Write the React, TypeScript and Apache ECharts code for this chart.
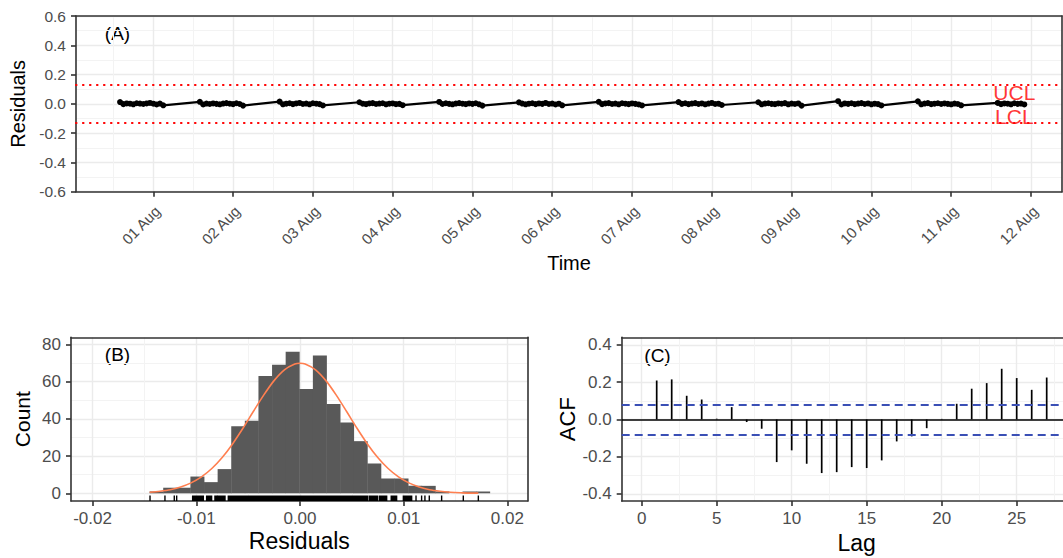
import { useEffect, useRef } from "react";
import * as echarts from "echarts";

const FONT = "'Liberation Sans', Arial, Helvetica, sans-serif";
const TICK_GREY = "#4D4D4D";
const BORDER = "#333333";
const GRID_MAJOR = "#EBEBEB";
const GRID_MINOR = "#F3F3F3";

// ---------- (A) residuals over time, one run of hourly readings per night ----------
const nightStarts = [
  "2021-07-31T14:00:00Z",
  "2021-08-01T14:00:00Z",
  "2021-08-02T14:00:00Z",
  "2021-08-03T14:00:00Z",
  "2021-08-04T14:00:00Z",
  "2021-08-05T14:00:00Z",
  "2021-08-06T14:00:00Z",
  "2021-08-07T14:00:00Z",
  "2021-08-08T14:00:00Z",
  "2021-08-09T14:00:00Z",
  "2021-08-10T14:00:00Z",
  "2021-08-11T14:00:00Z",
];
const SAMPLE_STEP_HOURS = 1;
const nightResiduals: number[][] = [
  [0.012, -0.002, 0.003, 0.001, -0.003, 0.004, 0.002, -0.001, 0.003, 0.006, 0.001, -0.004, 0.002, -0.01],
  [0.014, -0.004, 0.002, -0.001, 0.003, 0.0, -0.003, 0.002, 0.005, 0.001, -0.002, 0.004, -0.001, -0.012],
  [0.015, -0.003, 0.001, 0.004, -0.002, 0.003, 0.006, -0.001, 0.002, -0.003, 0.004, 0.001, -0.002, -0.011],
  [0.011, 0.001, -0.002, 0.003, 0.005, -0.001, 0.002, 0.004, -0.003, 0.001, 0.003, -0.002, 0.0, -0.009],
  [0.013, -0.001, 0.004, 0.0, -0.003, 0.002, 0.005, 0.001, -0.002, 0.003, 0.0, 0.004, -0.003, -0.012],
  [0.01, 0.002, -0.003, 0.001, 0.004, -0.002, 0.003, 0.0, 0.006, -0.001, 0.002, -0.004, 0.001, -0.01],
  [0.014, -0.002, 0.003, 0.005, -0.001, 0.002, -0.003, 0.004, 0.001, -0.002, 0.003, 0.0, -0.004, -0.011],
  [0.012, 0.0, 0.004, -0.002, 0.002, 0.005, -0.001, 0.003, -0.003, 0.002, 0.006, -0.001, 0.001, -0.008],
  [0.011, -0.003, 0.002, 0.004, 0.0, -0.002, 0.003, 0.001, 0.005, -0.003, 0.002, -0.001, 0.003, -0.012],
  [0.018, -0.004, 0.003, 0.0, 0.004, -0.002, 0.002, 0.005, -0.001, 0.003, -0.003, 0.001, -0.002, -0.011],
  [0.017, -0.003, 0.002, 0.005, -0.002, 0.001, 0.004, -0.001, 0.003, 0.0, -0.003, 0.002, -0.001, -0.01],
  [0.006, -0.002, 0.003, 0.001, -0.003, 0.004, 0.0, 0.002, -0.004],
];
const UCL = 0.13;
const LCL = -0.13;
const limitLabelTime = "2021-08-11T19:00:00Z";
const timeRange = ["2021-07-31T00:45:00Z", "2021-08-12T09:20:00Z"];
const dayTickDates = [
  "2021-08-01", "2021-08-02", "2021-08-03", "2021-08-04", "2021-08-05", "2021-08-06",
  "2021-08-07", "2021-08-08", "2021-08-09", "2021-08-10", "2021-08-11", "2021-08-12",
];
const dayTickLabels = [
  "01 Aug", "02 Aug", "03 Aug", "04 Aug", "05 Aug", "06 Aug",
  "07 Aug", "08 Aug", "09 Aug", "10 Aug", "11 Aug", "12 Aug",
];
const halfDayDates = [
  "2021-07-31T12:00:00Z", "2021-08-01T12:00:00Z", "2021-08-02T12:00:00Z", "2021-08-03T12:00:00Z",
  "2021-08-04T12:00:00Z", "2021-08-05T12:00:00Z", "2021-08-06T12:00:00Z", "2021-08-07T12:00:00Z",
  "2021-08-08T12:00:00Z", "2021-08-09T12:00:00Z", "2021-08-10T12:00:00Z", "2021-08-11T12:00:00Z",
];
const residualTicks = [-0.6, -0.4, -0.2, 0, 0.2, 0.4, 0.6];
const residualMinorTicks = [-0.5, -0.3, -0.1, 0.1, 0.3, 0.5];

// ---------- (B) histogram of residuals with fitted normal curve and rug ----------
const HIST_START = -0.0145;
const BIN_WIDTH = 0.001312;
const binCounts = [1, 3, 3, 9, 6, 13, 36, 39, 63, 69, 76, 56, 74, 48, 38, 28, 16, 8, 8, 4, 4, 1, 0, 1, 1];
const normalX = [
  -0.0145, -0.0135, -0.0125, -0.0115, -0.0105, -0.0095, -0.0085, -0.0075, -0.0065, -0.0055,
  -0.0045, -0.0035, -0.0025, -0.0015, -0.0005, 0.0, 0.0005, 0.0015, 0.0025, 0.0035, 0.0045,
  0.0055, 0.0065, 0.0075, 0.0085, 0.0095, 0.0105, 0.0115, 0.0125, 0.0135, 0.0145, 0.0155,
  0.0165, 0.0172,
];
const normalY = [
  0.6, 1.1, 1.9, 3.4, 5.6, 8.8, 13.3, 19.2, 26.5, 34.9, 43.9, 52.7, 60.5, 66.3, 69.4, 69.8,
  69.4, 66.3, 60.5, 52.7, 43.9, 34.9, 26.5, 19.2, 13.3, 8.8, 5.6, 3.4, 1.9, 1.1, 0.6, 0.3,
  0.1, 0.1,
];
// rug marks: [from, to]; single marks have from === to
const rugSpans: [number, number][] = [
  [-0.01446, -0.01446], [-0.01302, -0.01302], [-0.01212, -0.01212], [-0.01189, -0.01189],
  [-0.01035, -0.00932], [-0.009, -0.00852], [-0.0082, -0.00803], [-0.00794, -0.00723],
  [-0.00691, 0.00653], [0.0067, 0.00746], [0.00765, 0.00836], [0.0088, 0.00932],
  [0.00997, 0.01077], [0.01119, 0.01119], [0.01173, 0.01173], [0.01205, 0.01205],
  [0.01247, 0.01247], [0.01366, 0.01366], [0.01575, 0.01575], [0.0172, 0.0172],
];
const histXRange = [-0.02208, 0.02196];
const histXTicks = [-0.02, -0.01, 0, 0.01, 0.02];
const histXMinor = [-0.015, -0.005, 0.005, 0.015];
const countRange = [-4.13, 83.76];
const countTicks = [0, 20, 40, 60, 80];
const countMinor = [10, 30, 50, 70];

// ---------- (C) autocorrelation of residuals ----------
const acfLags = [1, 2, 3, 4, 5, 6, 7, 8, 9, 10, 11, 12, 13, 14, 15, 16, 17, 18, 19, 20, 21, 22, 23, 24, 25, 26, 27];
const acfValues = [
  0.209, 0.215, 0.127, 0.107, 0.004, 0.066, -0.014, -0.05, -0.229, -0.166, -0.238, -0.288, -0.283,
  -0.256, -0.261, -0.22, -0.118, -0.091, -0.047, 0.003, 0.084, 0.165, 0.195, 0.272, 0.222, 0.159, 0.225,
];
const ACF_BOUND = 0.08;
const lagRange = [-1.333, 30];
const lagTicks = [0, 5, 10, 15, 20, 25];
const lagMinor = [2.5, 7.5, 12.5, 17.5, 22.5, 27.5];
const acfRange = [-0.438, 0.441];
const acfTicks = [-0.4, -0.2, 0, 0.2, 0.4];
const acfMinor = [-0.3, -0.1, 0.1, 0.3];

const ms = (s: string) => Date.parse(s.length === 10 ? s + "T00:00:00Z" : s);
const fixed = (d: number) => (v: number) => (Math.abs(v) < 1e-12 ? 0 : v).toFixed(d);

const borderLine = { show: true, onZero: false, lineStyle: { color: BORDER, width: 1.6 } };

function majorAxis(
  gridIndex: number,
  range: number[],
  ticks: number[],
  formatter: (v: number) => string,
  fontSize: number,
  margin: number,
  extra: Record<string, unknown> = {}
) {
  return {
    type: "value",
    gridIndex,
    min: range[0],
    max: range[1],
    axisLine: borderLine,
    axisTick: { show: true, customValues: ticks, length: 5, lineStyle: { color: BORDER, width: 1.6 } },
    axisLabel: {
      customValues: ticks,
      formatter,
      color: TICK_GREY,
      fontSize,
      fontFamily: FONT,
      margin,
    },
    splitLine: { show: true, lineStyle: { color: GRID_MAJOR, width: 1.4 } },
    ...extra,
  };
}

// second axis of a panel: draws the opposite border and the minor grid lines
function minorAxis(gridIndex: number, range: number[], ticks: number[]) {
  return {
    type: "value",
    gridIndex,
    min: range[0],
    max: range[1],
    axisLine: borderLine,
    axisTick: { show: false, customValues: ticks },
    axisLabel: { show: false },
    splitLine: { show: true, lineStyle: { color: GRID_MINOR, width: 1 } },
  };
}

function titleStyle(fontSize: number) {
  return { color: "#000000", fontSize, fontFamily: FONT, verticalAlign: "middle", align: "center" };
}

export default function App() {
  const ref = useRef<HTMLDivElement>(null);

  useEffect(() => {
    if (!ref.current) return;
    const chart = echarts.init(ref.current, null, { renderer: "svg" });

    const residualSeries = nightResiduals.flatMap((vals, i) => {
      const t0 = ms(nightStarts[i]);
      return vals.map((v, k) => [t0 + k * SAMPLE_STEP_HOURS * 3600e3, v]);
    });
    const dayTickValues = dayTickDates.map(ms);
    const timeMin = ms(timeRange[0]);
    const timeMax = ms(timeRange[1]);
    const dayLabel = (v: number) => {
      const i = dayTickValues.indexOf(v);
      return i >= 0 ? dayTickLabels[i] : "";
    };

    // the slanted date labels hang a little to the right of their ticks
    const A_WIDTH = 986;
    const labelShift = (4.2 / A_WIDTH) * (timeMax - timeMin);

    const histData = binCounts.map((c, i) => [
      HIST_START + i * BIN_WIDTH,
      HIST_START + (i + 1) * BIN_WIDTH,
      c,
    ]);

    const gridBox = { show: false, outerBoundsMode: "none", containLabel: false };

    chart.setOption({
      animation: false,
      backgroundColor: "#ffffff",
      textStyle: { fontFamily: FONT },
      grid: [
        { left: 76, top: 16, width: A_WIDTH, height: 175.7, ...gridBox },
        { left: 71, top: 337.3, width: 456.7, height: 163.7, ...gridBox },
        { left: 621.7, top: 337.3, width: 470, height: 163.7, ...gridBox },
      ],
      xAxis: [
        {
          ...majorAxis(0, [timeMin, timeMax], dayTickValues, dayLabel, 15, 3, {
            name: "Time",
            nameLocation: "middle",
            nameGap: 71,
            nameTextStyle: titleStyle(20),
          }),
          axisLabel: { show: false, customValues: dayTickValues },
        },
        minorAxis(0, [timeMin, timeMax], halfDayDates.map(ms)),
        {
          type: "value",
          gridIndex: 0,
          position: "bottom",
          min: timeMin - labelShift,
          max: timeMax - labelShift,
          axisLine: { show: false, onZero: false },
          axisTick: { show: false, customValues: dayTickValues },
          splitLine: { show: false },
          axisLabel: {
            customValues: dayTickValues,
            formatter: dayLabel,
            rotate: 45,
            margin: 16.8,
            color: TICK_GREY,
            fontSize: 15,
            fontFamily: FONT,
          },
        },
        majorAxis(1, histXRange, histXTicks, fixed(2), 17, 9, {
          name: "Residuals",
          nameLocation: "middle",
          nameGap: 40,
          nameTextStyle: titleStyle(23),
        }),
        minorAxis(1, histXRange, histXMinor),
        majorAxis(2, lagRange, lagTicks, (v: number) => String(Math.round(v)), 17, 9, {
          name: "Lag",
          nameLocation: "middle",
          nameGap: 42,
          nameTextStyle: titleStyle(23),
        }),
        minorAxis(2, lagRange, lagMinor),
      ],
      yAxis: [
        majorAxis(0, [-0.6, 0.6], residualTicks, fixed(1), 15.5, 10, {
          name: "Residuals",
          nameLocation: "middle",
          nameGap: 56,
          nameTextStyle: titleStyle(20),
        }),
        minorAxis(0, [-0.6, 0.6], residualMinorTicks),
        majorAxis(1, countRange, countTicks, (v: number) => String(Math.round(v)), 17, 10, {
          name: "Count",
          nameLocation: "middle",
          nameGap: 49,
          nameTextStyle: titleStyle(21),
        }),
        minorAxis(1, countRange, countMinor),
        majorAxis(2, acfRange, acfTicks, fixed(1), 17, 10, {
          name: "ACF",
          nameLocation: "middle",
          nameGap: 40,
          nameTextStyle: titleStyle(22),
        }),
        minorAxis(2, acfRange, acfMinor),
      ],
      graphic: [
        { type: "text", x: 117.5, y: 33, style: { text: "(A)", font: `19px ${FONT}`, fill: "#000", align: "center", verticalAlign: "middle" } },
        { type: "text", x: 117.5, y: 354.5, style: { text: "(B)", font: `19px ${FONT}`, fill: "#000", align: "center", verticalAlign: "middle" } },
        { type: "text", x: 657.5, y: 355.5, style: { text: "(C)", font: `19px ${FONT}`, fill: "#000", align: "center", verticalAlign: "middle" } },
      ],
      series: [
        {
          type: "line",
          xAxisIndex: 0,
          yAxisIndex: 0,
          data: residualSeries,
          symbol: "circle",
          symbolSize: 6,
          showSymbol: true,
          itemStyle: { color: "#000000" },
          lineStyle: { color: "#000000", width: 2.2 },
          z: 3,
          markLine: {
            silent: true,
            symbol: ["none", "none"],
            label: { show: false },
            lineStyle: { color: "#FF0000", width: 2.2, type: [0.5, 6.5], cap: "round" },
            data: [{ yAxis: UCL }, { yAxis: LCL }],
          },
        },
        {
          type: "scatter",
          xAxisIndex: 0,
          yAxisIndex: 0,
          symbolSize: 0,
          silent: true,
          z: 4,
          data: [
            { value: [ms(limitLabelTime), UCL], label: { formatter: "UCL", position: "bottom", distance: 0, offset: [0, -2] } },
            { value: [ms(limitLabelTime), LCL], label: { formatter: "LCL", position: "top", distance: 0, offset: [0, 3] } },
          ],
          label: { show: true, color: "#FF0000", fontSize: 21, lineHeight: 19, fontFamily: FONT },
        },
        {
          type: "custom",
          xAxisIndex: 3,
          yAxisIndex: 2,
          data: histData,
          encode: { x: [0, 1], y: 2 },
          renderItem: (_params: any, api: any) => {
            const p0 = api.coord([api.value(0), api.value(2)]);
            const p1 = api.coord([api.value(1), 0]);
            return {
              type: "rect",
              shape: { x: p0[0], y: p0[1], width: p1[0] - p0[0] + 0.4, height: p1[1] - p0[1] },
              style: { fill: "#595959" },
            };
          },
        },
        {
          type: "custom",
          xAxisIndex: 3,
          yAxisIndex: 2,
          data: rugSpans,
          encode: { x: [0, 1] },
          renderItem: (_params: any, api: any) => {
            const p0 = api.coord([api.value(0), countRange[0]]);
            const p1 = api.coord([api.value(1), countRange[0]]);
            return {
              type: "rect",
              shape: { x: p0[0] - 0.7, y: p0[1] - 5.5, width: p1[0] - p0[0] + 1.4, height: 5.5 },
              style: { fill: "#000000" },
            };
          },
        },
        {
          type: "line",
          xAxisIndex: 3,
          yAxisIndex: 2,
          data: normalX.map((x, i) => [x, normalY[i]]),
          smooth: 0.3,
          showSymbol: false,
          lineStyle: { color: "#FF7F50", width: 1.6 },
          z: 4,
        },
        {
          type: "custom",
          xAxisIndex: 5,
          yAxisIndex: 4,
          data: acfLags.map((l, i) => [l, acfValues[i]]),
          renderItem: (_params: any, api: any) => {
            const p0 = api.coord([api.value(0), 0]);
            const p1 = api.coord([api.value(0), api.value(1)]);
            return {
              type: "line",
              shape: { x1: p0[0], y1: p0[1], x2: p1[0], y2: p1[1] },
              style: { stroke: "#000000", lineWidth: 1.7 },
            };
          },
          markLine: {
            silent: true,
            symbol: ["none", "none"],
            label: { show: false },
            data: [
              { yAxis: 0, lineStyle: { color: "#000000", width: 1.6, type: "solid" } },
              { yAxis: ACF_BOUND, lineStyle: { color: "#3A4FB5", width: 1.8, type: [8, 5] } },
              { yAxis: -ACF_BOUND, lineStyle: { color: "#3A4FB5", width: 1.8, type: [8, 5] } },
            ],
          },
        },
      ],
    });

    return () => chart.dispose();
  }, []);

  return (
    <div
      ref={ref}
      style={{ position: "absolute", left: 0, top: 0, width: 1063, height: 558, background: "#fff" }}
    />
  );
}
